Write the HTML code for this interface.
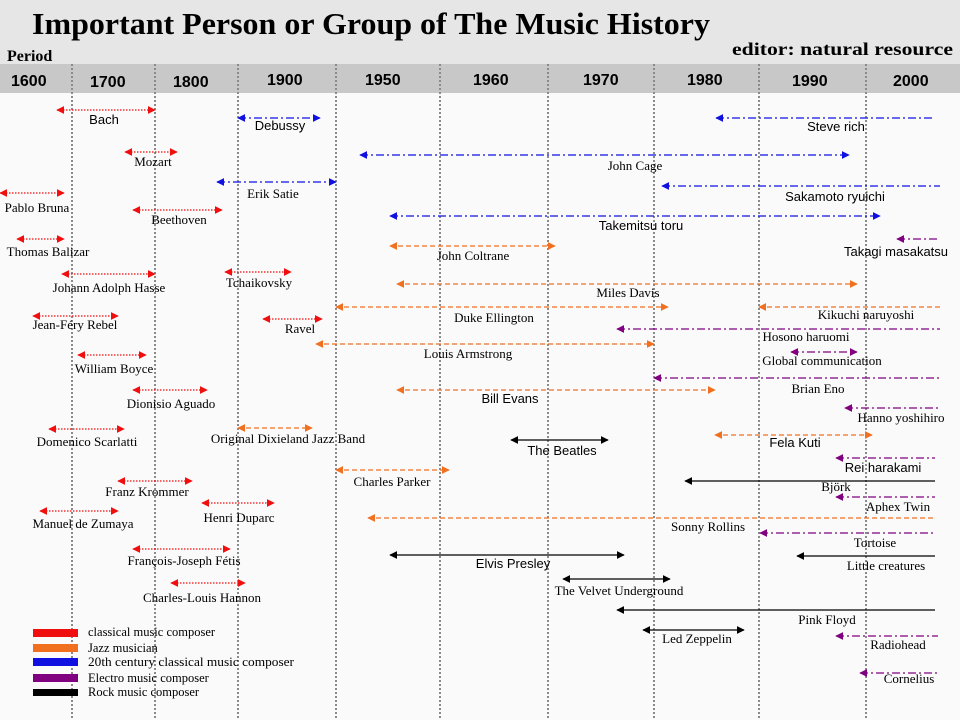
<!DOCTYPE html>
<html><head><meta charset="utf-8"><style>
body{margin:0;width:960px;height:720px;overflow:hidden;background:#fafafa}
svg{display:block}
.s{font-family:"Liberation Sans",sans-serif;font-size:13px}
.r{font-family:"Liberation Serif",serif;font-size:13px}
</style></head><body>
<svg width="960" height="720" xmlns="http://www.w3.org/2000/svg">
<defs>
<marker id="mr" viewBox="0 0 10 10" refX="9" refY="5" markerWidth="8" markerHeight="8" orient="auto-start-reverse" markerUnits="userSpaceOnUse"><path d="M0,0L10,5L0,10z" fill="#f00f0f"/></marker>
<marker id="mb" viewBox="0 0 10 10" refX="9" refY="5" markerWidth="8" markerHeight="8" orient="auto-start-reverse" markerUnits="userSpaceOnUse"><path d="M0,0L10,5L0,10z" fill="#1010e0"/></marker>
<marker id="mo" viewBox="0 0 10 10" refX="9" refY="5" markerWidth="8" markerHeight="8" orient="auto-start-reverse" markerUnits="userSpaceOnUse"><path d="M0,0L10,5L0,10z" fill="#f07020"/></marker>
<marker id="mp" viewBox="0 0 10 10" refX="9" refY="5" markerWidth="8" markerHeight="8" orient="auto-start-reverse" markerUnits="userSpaceOnUse"><path d="M0,0L10,5L0,10z" fill="#800080"/></marker>
<marker id="mk" viewBox="0 0 10 10" refX="9" refY="5" markerWidth="8" markerHeight="8" orient="auto-start-reverse" markerUnits="userSpaceOnUse"><path d="M0,0L10,5L0,10z" fill="#000"/></marker>
</defs>
<rect x="0" y="0" width="960" height="64" fill="#e6e6e6"/>
<rect x="0" y="64" width="960" height="29" fill="#c8c8c8"/>
<text x="32" y="34" font-family="Liberation Serif,serif" font-weight="bold" font-size="31" textLength="678" lengthAdjust="spacingAndGlyphs">Important Person or Group of The Music History</text>
<text x="732" y="55" font-family="Liberation Serif,serif" font-weight="bold" font-size="18" textLength="221" lengthAdjust="spacingAndGlyphs">editor:  natural resource</text>
<text x="7" y="61" font-family="Liberation Serif,serif" font-weight="bold" font-size="16">Period</text>
<g font-family="Liberation Sans,sans-serif" font-weight="bold" font-size="16">
<text x="11" y="86">1600</text><text x="90" y="87">1700</text><text x="173" y="87">1800</text><text x="267" y="85">1900</text><text x="365" y="85">1950</text><text x="473" y="85">1960</text><text x="583" y="85">1970</text><text x="687" y="85">1980</text><text x="792" y="86">1990</text><text x="893" y="86">2000</text>
</g>
<g stroke="#8a8a8a" stroke-width="2" stroke-dasharray="2,2">
<line x1="72" y1="64" x2="72" y2="720"/><line x1="155" y1="64" x2="155" y2="720"/><line x1="238" y1="64" x2="238" y2="720"/><line x1="336" y1="64" x2="336" y2="720"/><line x1="440" y1="64" x2="440" y2="720"/><line x1="548" y1="64" x2="548" y2="720"/><line x1="654" y1="64" x2="654" y2="720"/><line x1="759" y1="64" x2="759" y2="720"/><line x1="866" y1="64" x2="866" y2="720"/>
</g>
<g stroke="#f00f0f" stroke-width="1.3" stroke-dasharray="1.5,1.5" marker-start="url(#mr)" marker-end="url(#mr)">
<line x1="57" y1="110" x2="155" y2="110"/><line x1="125" y1="152" x2="177" y2="152"/><line x1="0" y1="193" x2="64" y2="193"/><line x1="133" y1="210" x2="222" y2="210"/><line x1="17" y1="239" x2="64" y2="239"/><line x1="62" y1="274" x2="155" y2="274"/><line x1="33" y1="316" x2="118" y2="316"/><line x1="78" y1="355" x2="146" y2="355"/><line x1="133" y1="390" x2="207" y2="390"/><line x1="49" y1="429" x2="124" y2="429"/><line x1="118" y1="481" x2="192" y2="481"/><line x1="202" y1="503" x2="274" y2="503"/><line x1="40" y1="511" x2="118" y2="511"/><line x1="133" y1="549" x2="230" y2="549"/><line x1="171" y1="583" x2="245" y2="583"/><line x1="225" y1="272" x2="291" y2="272"/><line x1="263" y1="319" x2="322" y2="319"/>
</g>
<g stroke="#1010e0" stroke-width="1.3" stroke-dasharray="8,3,2,3">
<line x1="238" y1="118" x2="320" y2="118" marker-start="url(#mb)" marker-end="url(#mb)"/><line x1="217" y1="182" x2="336" y2="182" marker-start="url(#mb)" marker-end="url(#mb)"/><line x1="716" y1="118" x2="935" y2="118" marker-start="url(#mb)"/><line x1="360" y1="155" x2="849" y2="155" marker-start="url(#mb)" marker-end="url(#mb)"/><line x1="662" y1="186" x2="940" y2="186" marker-start="url(#mb)"/><line x1="390" y1="216" x2="880" y2="216" marker-start="url(#mb)" marker-end="url(#mb)"/>
</g>
<g stroke="#f07020" stroke-width="1.3" stroke-dasharray="5,3">
<line x1="390" y1="246" x2="555" y2="246" marker-start="url(#mo)" marker-end="url(#mo)"/><line x1="397" y1="284" x2="857" y2="284" marker-start="url(#mo)" marker-end="url(#mo)"/><line x1="336" y1="307" x2="668" y2="307" marker-start="url(#mo)" marker-end="url(#mo)"/><line x1="759" y1="307" x2="940" y2="307" marker-start="url(#mo)"/><line x1="316" y1="344" x2="654" y2="344" marker-start="url(#mo)" marker-end="url(#mo)"/><line x1="397" y1="390" x2="715" y2="390" marker-start="url(#mo)" marker-end="url(#mo)"/><line x1="715" y1="435" x2="872" y2="435" marker-start="url(#mo)" marker-end="url(#mo)"/><line x1="336" y1="470" x2="449" y2="470" marker-start="url(#mo)" marker-end="url(#mo)"/><line x1="368" y1="518" x2="935" y2="518" marker-start="url(#mo)"/><line x1="238" y1="428" x2="312" y2="428" marker-start="url(#mo)" marker-end="url(#mo)"/>
</g>
<g stroke="#800080" stroke-width="1.3" stroke-dasharray="8,3,2,3" marker-start="url(#mp)">
<line x1="897" y1="239" x2="940" y2="239"/><line x1="617" y1="329" x2="940" y2="329"/><line x1="791" y1="352" x2="857" y2="352" marker-end="url(#mp)"/><line x1="654" y1="378" x2="940" y2="378"/><line x1="845" y1="408" x2="940" y2="408"/><line x1="836" y1="458" x2="935" y2="458"/><line x1="836" y1="497" x2="935" y2="497"/><line x1="760" y1="533" x2="935" y2="533"/><line x1="836" y1="636" x2="938" y2="636"/><line x1="860" y1="673" x2="940" y2="673"/>
</g>
<g stroke="#000" stroke-width="1.3">
<line x1="511" y1="440" x2="608" y2="440" marker-start="url(#mk)" marker-end="url(#mk)"/><line x1="685" y1="481" x2="935" y2="481" marker-start="url(#mk)"/><line x1="797" y1="556" x2="935" y2="556" marker-start="url(#mk)"/><line x1="390" y1="555" x2="624" y2="555" marker-start="url(#mk)" marker-end="url(#mk)"/><line x1="563" y1="579" x2="670" y2="579" marker-start="url(#mk)" marker-end="url(#mk)"/><line x1="617" y1="610" x2="935" y2="610" marker-start="url(#mk)"/><line x1="643" y1="630" x2="744" y2="630" marker-start="url(#mk)" marker-end="url(#mk)"/>
</g>
<g text-anchor="middle">
<text class="s" x="104" y="124">Bach</text><text class="r" x="153" y="166">Mozart</text><text class="r" x="37" y="212">Pablo Bruna</text><text class="r" x="179" y="224">Beethoven</text><text class="r" x="48" y="256">Thomas Balizar</text><text class="r" x="109" y="292">Johann Adolph Hasse</text><text class="r" x="75" y="329">Jean-Féry Rebel</text><text class="r" x="114" y="373">William Boyce</text><text class="r" x="171" y="408">Dionisio Aguado</text><text class="r" x="87" y="446">Domenico Scarlatti</text><text class="r" x="147" y="496">Franz Krommer</text><text class="r" x="239" y="522">Henri Duparc</text><text class="r" x="83" y="528">Manuel de Zumaya</text><text class="r" x="184" y="565">François-Joseph Fétis</text><text class="r" x="202" y="602">Charles-Louis Hannon</text><text class="r" x="259" y="287">Tchaikovsky</text><text class="r" x="300" y="333">Ravel</text>
<text class="s" x="280" y="130">Debussy</text><text class="r" x="273" y="198">Erik Satie</text><text class="s" x="836" y="131">Steve rich</text><text class="r" x="635" y="170" font-size="15">John Cage</text><text class="s" x="835" y="201">Sakamoto ryuichi</text><text class="s" x="641" y="230">Takemitsu  toru</text>
<text class="r" x="473" y="260">John Coltrane</text><text class="r" x="628" y="297">Miles Davis</text><text class="r" x="494" y="322">Duke Ellington</text><text class="r" x="866" y="319">Kikuchi  naruyoshi</text><text class="r" x="468" y="358">Louis Armstrong</text><text class="s" x="510" y="403">Bill Evans</text><text class="s" x="795" y="447">Fela Kuti</text><text class="r" x="392" y="486">Charles Parker</text><text class="r" x="708" y="531">Sonny Rollins</text><text class="r" x="288" y="443">Original Dixieland Jazz Band</text>
<text class="s" x="896" y="256">Takagi masakatsu</text><text class="r" x="806" y="341">Hosono haruomi</text><text class="r" x="822" y="365">Global communication</text><text class="r" x="818" y="393">Brian Eno</text><text class="r" x="901" y="422">Hanno yoshihiro</text><text class="s" x="883" y="472">Rei harakami</text><text class="r" x="836" y="491">Björk</text><text class="r" x="898" y="511">Aphex Twin</text><text class="r" x="875" y="547">Tortoise</text><text class="r" x="886" y="570">Little creatures</text>
<text class="s" x="562" y="455">The Beatles</text><text class="s" x="513" y="568">Elvis Presley</text><text class="r" x="619" y="595">The Velvet Underground</text><text class="r" x="827" y="624">Pink Floyd</text><text class="r" x="697" y="643">Led Zeppelin</text><text class="r" x="898" y="649">Radiohead</text><text class="r" x="909" y="683">Cornelius</text>
</g>
<rect x="33" y="629" width="45" height="8" fill="#f00f0f"/><rect x="33" y="644" width="45" height="8" fill="#f07020"/><rect x="33" y="658" width="45" height="8" fill="#1010e0"/><rect x="33" y="674" width="45" height="8" fill="#800080"/><rect x="33" y="689" width="45" height="7" fill="#000"/>
<g font-family="Liberation Serif,serif" font-size="12.5">
<text x="88" y="636">classical music composer</text><text x="88" y="652">Jazz musician</text><text x="88" y="666" textLength="206" lengthAdjust="spacingAndGlyphs">20th century classical music composer</text><text x="88" y="682">Electro music composer</text><text x="88" y="696">Rock music composer</text>
</g>
</svg>
</body></html>
